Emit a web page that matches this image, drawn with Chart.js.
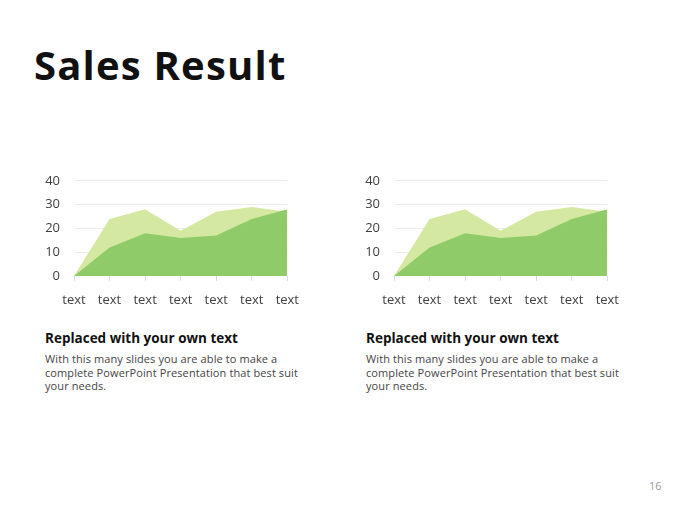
<!DOCTYPE html>
<html>
<head>
<meta charset="utf-8">
<script src="https://cdn.jsdelivr.net/npm/chart.js@4.4.0/dist/chart.umd.min.js"></script>
<style>
    body {
        margin: 0;
        width: 680px;
        height: 510px;
        background: #fff;
        position: relative;
        overflow: hidden;
        font-family: "Open Sans", "Noto Sans", sans-serif;
    }
    .title {
        position: absolute;
        left: 34px;
        top: 37px;
        font-size: 40px;
        font-weight: bold;
        color: #111;
        letter-spacing: 1.2px;
    }
    .chartBox {
        position: absolute;
        top: 159px;
        width: 280px;
        height: 152px;
    }
    .caption {
        position: absolute;
        top: 330px;
        width: 270px;
        color: #333;
    }
    .caption h3 {
        margin: 0 0 6px 0;
        font-size: 13.5px;
        line-height: 16px;
        font-weight: bold;
        color: #111;
    }
    .caption p {
        margin: 0;
        font-size: 11px;
        line-height: 13.5px;
        color: #444;
        letter-spacing: 0.1px;
    }
    .pageNo {
        position: absolute;
        left: 649px;
        top: 478px;
        font-size: 11px;
        color: #999;
    }
</style>
</head>
<body>
<div class="title">Sales Result</div>

<div class="chartBox" style="left:30px"><canvas id="salesChart1"></canvas></div>
<div class="chartBox" style="left:350px"><canvas id="salesChart2"></canvas></div>

<div class="caption" style="left:45px">
    <h3>Replaced with your own text</h3>
    <p>With this many slides you are able to make a complete PowerPoint Presentation that best suit your needs.</p>
</div>
<div class="caption" style="left:366px">
    <h3>Replaced with your own text</h3>
    <p>With this many slides you are able to make a complete PowerPoint Presentation that best suit your needs.</p>
</div>

<div class="pageNo">16</div>

<script>
// Change Label & Data Set Here
var labels = ['text', 'text', 'text', 'text', 'text', 'text', 'text'];
var seriesBack = [0, 24, 28, 19, 27, 29, 27];
var seriesFront = [0, 12, 18, 16, 17, 24, 28];
var yTicks = [0, 10, 20, 30, 40];

/**
 * Set area data
 * @param {Array} label
 * @returns dataSet
 */
function areaDataSet(label) {
    var dataSet = {
        labels: label,
        datasets: [{
            // front series first so it is drawn on top
            data: seriesFront,
            backgroundColor: '#8fcc69',
            borderWidth: 0,
            fill: 'origin',
            tension: 0,
            pointRadius: 0,
            pointHoverRadius: 0,
        }, {
            data: seriesBack,
            backgroundColor: '#d5e8a2',
            borderWidth: 0,
            fill: 'origin',
            tension: 0,
            pointRadius: 0,
            pointHoverRadius: 0,
        }]
    };
    return dataSet;
}

/**
 * Chart configuration
 * @param {Object} dataSet
 * @returns configData
 */
function config(dataSet) {
    const tickFont = { family: '"Open Sans", "Noto Sans", sans-serif', size: 13 };
    const configData = {
        type: 'line',
        data: dataSet,
        options: {
            responsive: true,
            maintainAspectRatio: false,
            animation: false,
            layout: {
                autoPadding: false,
                padding: { top: 8, right: 7, bottom: 0, left: 0 },
            },
            plugins: {
                legend: { display: false },
                tooltip: { enabled: false },
            },
            scales: {
                x: {
                    offset: false,
                    border: { display: false },
                    grid: {
                        drawOnChartArea: false,
                        drawTicks: true,
                        tickLength: 5,
                        color: '#d9d9d9',
                    },
                    ticks: {
                        color: '#404040',
                        font: tickFont,
                        padding: 11,
                        maxRotation: 0,
                        autoSkip: false,
                    },
                    afterFit: (scale) => { scale.height = 35; },
                },
                y: {
                    min: yTicks[0],
                    max: yTicks[yTicks.length - 1],
                    border: { display: false },
                    grid: {
                        drawTicks: false,
                        color: (ctx) => ctx.tick.value === 0 ? 'rgba(0,0,0,0)' : '#ececec',
                    },
                    afterBuildTicks: (scale) => {
                        scale.ticks = yTicks.map((v) => ({ value: v }));
                    },
                    ticks: {
                        color: '#404040',
                        font: tickFont,
                        padding: 14,
                    },
                    afterFit: (scale) => { scale.width = 44; },
                }
            }
        }
    };
    return configData;
}

// Two identical charts
const salesChart1 = new Chart(
    document.getElementById('salesChart1'),
    config(areaDataSet(labels))
);
const salesChart2 = new Chart(
    document.getElementById('salesChart2'),
    config(areaDataSet(labels))
);
</script>
</body>
</html>
